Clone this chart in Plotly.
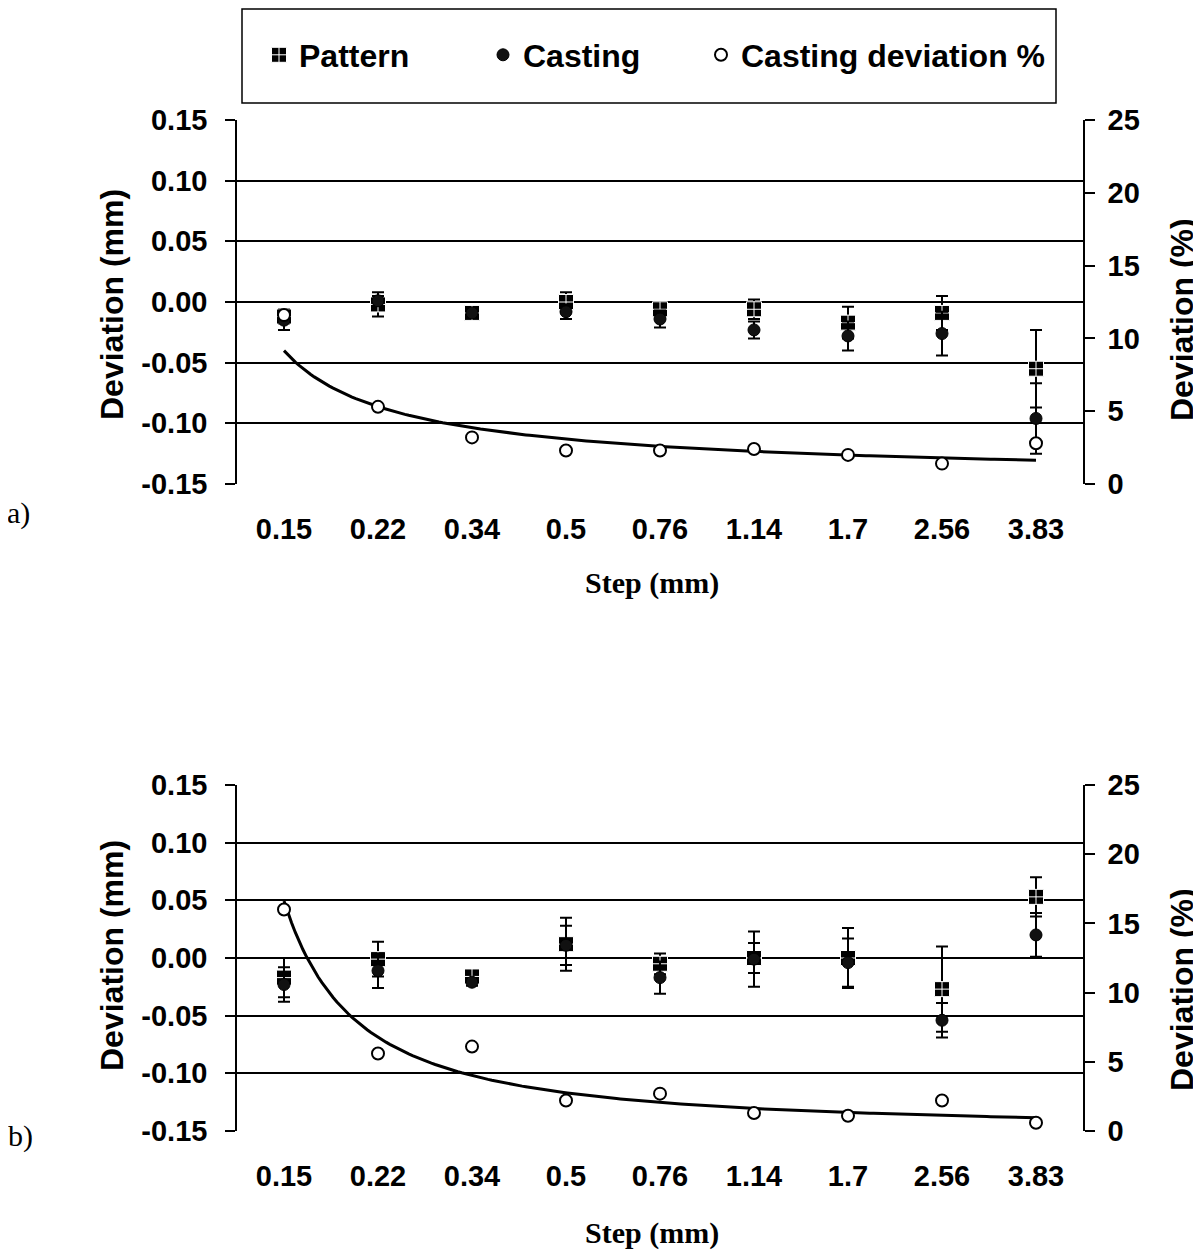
import numpy as np
import plotly.graph_objects as go

# ---------------- data ----------------
steps = ["0.15", "0.22", "0.34", "0.5", "0.76", "1.14", "1.7", "2.56", "3.83"]

# (a)
pattern_a = [-0.012, -0.002, -0.009, 0.000, -0.006, -0.006, -0.017, -0.009, -0.055]
pattern_a_err = [0.006, 0.010, 0.003, 0.008, 0.006, 0.008, 0.013, 0.014, 0.032]
casting_a = [-0.015, 0.001, -0.009, -0.008, -0.014, -0.023, -0.028, -0.026, -0.096]
casting_a_err = [0.008, 0.004, 0.003, 0.006, 0.007, 0.007, 0.012, 0.018, 0.029]
pct_a = [11.6, 5.3, 3.2, 2.3, 2.3, 2.4, 2.0, 1.4, 2.8]

# (b)
pattern_b = [-0.017, -0.001, -0.016, 0.012, -0.005, 0.000, 0.000, -0.027, 0.053]
pattern_b_err = [0.017, 0.015, 0.003, 0.023, 0.009, 0.013, 0.026, 0.037, 0.017]
casting_b = [-0.023, -0.011, -0.021, 0.011, -0.017, -0.001, -0.004, -0.054, 0.020]
casting_b_err = [0.015, 0.015, 0.003, 0.017, 0.014, 0.024, 0.021, 0.015, 0.019]
pct_b = [16.0, 5.6, 6.1, 2.2, 2.7, 1.3, 1.1, 2.2, 0.6]

left_ticks = [-0.15, -0.10, -0.05, 0.00, 0.05, 0.10, 0.15]
left_tick_text = ["-0.15", "-0.10", "-0.05", "0.00", "0.05", "0.10", "0.15"]
right_ticks = [0, 5, 10, 15, 20, 25]
right_tick_text = ["0", "5", "10", "15", "20", "25"]

# ---------------- layout geometry ----------------
# the page body has an 8px default margin, so the figure is placed at (8, 8)
OFF = 8
W, H = 1201 - OFF, 1252 - OFF


def px(x):
    return (x - OFF) / W


def py(y):
    return 1 - (y - OFF) / H


XD = [px(237), px(1083)]
YD1 = [py(484), py(120)]
YD2 = [py(1131), py(785)]

idx = np.arange(1, len(steps) + 1)
SANS = "Liberation Sans"
SERIF = "Liberation Serif"


def power_trend(values):
    # Excel-style power trendline (least squares in log-log space) of the % series
    b, lna = np.polyfit(np.log(idx), np.log(values), 1)
    xs = np.linspace(1, len(values), 200)
    return xs, np.exp(lna) * xs ** b


fig = go.Figure()


def add_panel(xa, ya, ya2, pat, pat_err, cas, cas_err, pct, show_legend):
    err_style = dict(type="data", visible=True, color="black", thickness=2, width=6)
    fig.add_trace(go.Scatter(
        x=idx, y=pat, mode="markers", name="Pattern", xaxis=xa, yaxis=ya,
        error_y=dict(array=pat_err, **err_style),
        marker=dict(symbol="square-cross", size=15, color="black",
                    line=dict(color="white", width=1)),
        showlegend=show_legend, legend="legend"))
    fig.add_trace(go.Scatter(
        x=idx, y=cas, mode="markers", name="Casting", xaxis=xa, yaxis=ya,
        error_y=dict(array=cas_err, **err_style),
        marker=dict(symbol="circle", size=12, color="#111111",
                    line=dict(color="black", width=1)),
        showlegend=show_legend, legend="legend2"))
    tx, ty = power_trend(pct)
    fig.add_trace(go.Scatter(
        x=tx, y=ty, mode="lines", xaxis=xa, yaxis=ya2,
        line=dict(color="black", width=3), showlegend=False, hoverinfo="skip"))
    fig.add_trace(go.Scatter(
        x=idx, y=pct, mode="markers", name="Casting deviation %", xaxis=xa, yaxis=ya2,
        marker=dict(symbol="circle", size=12, color="white",
                    line=dict(color="black", width=2)),
        showlegend=show_legend, legend="legend3"))


add_panel("x", "y", "y2", pattern_a, pattern_a_err, casting_a, casting_a_err, pct_a, True)
add_panel("x2", "y3", "y4", pattern_b, pattern_b_err, casting_b, casting_b_err, pct_b, False)

tickfont = dict(family=SANS, size=29, color="black", weight="bold")


def xaxis_main(anchor):
    return dict(domain=XD, anchor=anchor, range=[0.5, len(steps) + 0.5],
                tickvals=idx, ticktext=steps, showgrid=False, showline=False,
                zeroline=False, ticks="", tickfont=tickfont, ticklabelstandoff=25,
                automargin=False)


def xaxis_zero(overlay, ydom):
    return dict(overlaying=overlay, anchor="free", position=(ydom[0] + ydom[1]) / 2,
                range=[0.5, len(steps) + 0.5], tickvals=idx[:-1] + 0.5,
                showticklabels=False, ticks="outside", ticklen=9, tickwidth=1.5,
                tickcolor="black", showline=True, linecolor="black", linewidth=1.5,
                showgrid=False, zeroline=False, automargin=False)


def yaxis_left(anchor, dom):
    return dict(domain=dom, anchor=anchor, range=[-0.15, 0.15], tickvals=left_ticks,
                ticktext=left_tick_text, showgrid=True, gridcolor="black", gridwidth=1.5,
                showline=True, linecolor="black", linewidth=1.5, ticks="outside",
                ticklen=10, tickwidth=1.5, tickcolor="black", zeroline=False,
                tickfont=tickfont, ticklabelstandoff=12, automargin=False)


def yaxis_right(overlay, anchor):
    return dict(overlaying=overlay, anchor=anchor, side="right", range=[0, 25],
                tickvals=right_ticks, ticktext=right_tick_text, showgrid=False,
                showline=True, linecolor="black", linewidth=1.5, ticks="outside",
                ticklen=10, tickwidth=1.5, tickcolor="black", zeroline=False,
                tickfont=tickfont, ticklabelstandoff=7, automargin=False)


legfont = dict(family=SANS, size=32, color="black", weight="bold")


def leg(xpx):
    return dict(orientation="h", x=px(xpx), y=py(55), xanchor="left", yanchor="middle",
                font=legfont, bgcolor="rgba(0,0,0,0)", borderwidth=0, itemwidth=30)


fig.update_layout(
    width=W, height=H, margin=dict(l=0, r=0, t=0, b=0, pad=0, autoexpand=False),
    paper_bgcolor="white", plot_bgcolor="white",
    xaxis=xaxis_main("y"), yaxis=yaxis_left("x", YD1), yaxis2=yaxis_right("y", "x"),
    xaxis3=xaxis_zero("x", YD1),
    xaxis2=xaxis_main("y3"), yaxis3=yaxis_left("x2", YD2), yaxis4=yaxis_right("y3", "x2"),
    xaxis4=xaxis_zero("x2", YD2),
    legend=leg(259), legend2=leg(483), legend3=leg(701),
    shapes=[dict(type="rect", xref="paper", yref="paper", x0=px(242), x1=px(1056),
                 y0=py(103), y1=py(9), line=dict(color="black", width=1.5))],
    showlegend=True,
)

ann_sans = dict(family=SANS, size=32, color="black", weight="bold")
ann = [
    dict(text="Deviation (mm)", x=px(112), y=py(304), textangle=-90, font=ann_sans),
    dict(text="Deviation (%)", x=px(1182), y=py(320), textangle=-90, font=ann_sans),
    dict(text="Deviation (mm)", x=px(112), y=py(955), textangle=-90, font=ann_sans),
    dict(text="Deviation (%)", x=px(1182), y=py(990), textangle=-90, font=ann_sans),
    dict(text="Step (mm)", x=px(652), y=py(583),
         font=dict(family=SERIF, size=30, color="black", weight="bold")),
    dict(text="Step (mm)", x=px(652), y=py(1233),
         font=dict(family=SERIF, size=30, color="black", weight="bold")),
    dict(text="a)", x=px(19), y=py(513), font=dict(family=SERIF, size=30, color="black")),
    dict(text="b)", x=px(21), y=py(1136), font=dict(family=SERIF, size=30, color="black")),
]
for a in ann:
    a.update(xref="paper", yref="paper", showarrow=False, xanchor="center", yanchor="middle")
fig.update_layout(annotations=ann)

fig.write_html("out.html")
